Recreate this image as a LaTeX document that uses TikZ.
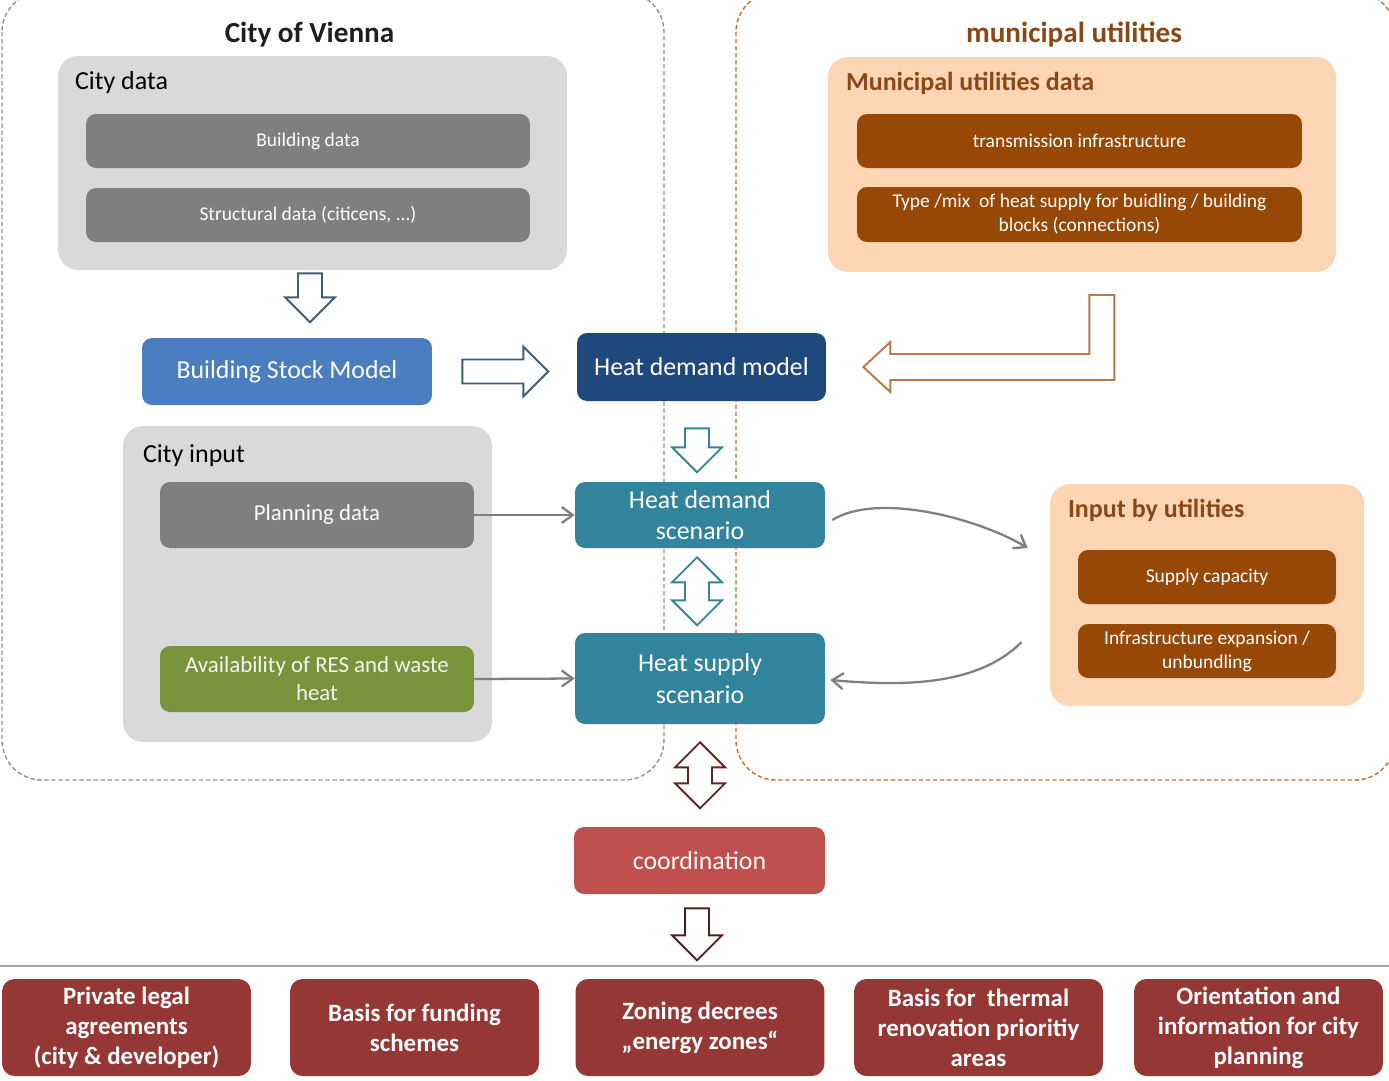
\documentclass[tikz,border=0pt]{standalone}
\usepackage{fontspec}
\setmainfont{Carlito}
\usepackage{tikz}
\usetikzlibrary{arrows.meta,positioning,calc}
\definecolor{ink}{RGB}{30,30,30}
\definecolor{cgrey}{RGB}{217,217,217}
\definecolor{dgrey}{RGB}{127,127,127}
\definecolor{peach}{RGB}{252,213,180}
\definecolor{rust}{RGB}{151,72,6}
\definecolor{rusttxt}{RGB}{138,72,22}
\definecolor{bsmblue}{RGB}{74,126,193}
\definecolor{navy}{RGB}{31,73,125}
\definecolor{sea}{RGB}{49,132,155}
\definecolor{leaf}{RGB}{119,147,60}
\definecolor{coral}{RGB}{192,80,77}
\definecolor{wine}{RGB}{149,55,53}
\definecolor{plum}{RGB}{99,37,35}
\definecolor{slate}{RGB}{68,90,122}
\definecolor{amber}{RGB}{196,110,50}
\definecolor{lamber}{RGB}{185,120,75}
\definecolor{rulegrey}{RGB}{166,166,166}
\tikzset{
  region/.style={dash pattern=on 2.5pt off 1.5pt,line width=0.8pt,rounded corners=0.8cm},
  group/.style={rounded corners=0.4cm,inner sep=0pt},
  item/.style={rounded corners=0.2cm,inner sep=2pt,align=center,text=white,
    font=\fontsize{11.1}{13.6}\selectfont},
  model/.style={rounded corners=0.2cm,align=center,text=white,
    font=\fontsize{14.7}{18}\selectfont},
  outcome/.style={rounded corners=0.25cm,fill=wine,text=white,align=center,
    minimum width=4.98cm,minimum height=1.94cm,font=\bfseries\fontsize{14.2}{17}\selectfont},
  lbl/.style={anchor=west,inner sep=0pt,font=\fontsize{14.8}{17}\selectfont},
  conn/.style={-{Straight Barb[length=2.2mm,width=3.2mm]},dgrey,line width=1.3pt},
  blk/.style={fill=white,line width=1.1pt,line join=miter},
  pics/onearrow/.style={code={
    \draw[pic actions] (0,-12) -- ({#1-25},-12) -- ({#1-25},-25) -- (#1,0)
      -- ({#1-25},25) -- ({#1-25},12) -- (0,12) -- cycle;
  }},
  pics/twoarrow/.style={code={
    \draw[pic actions] (0,0) -- (25,-25) -- (25,-12) -- ({#1-25},-12) -- ({#1-25},-25)
      -- (#1,0) -- ({#1-25},25) -- ({#1-25},12) -- (25,12) -- (25,25) -- cycle;
  }},
}

\begin{document}
\begin{tikzpicture}[x=0.02cm,y=-0.02cm]
\useasboundingbox (0,0) rectangle (1389,1080);
% dashed regions
\draw[region,draw=dgrey!85] (2,-8) rectangle (664,780);
\draw[region,draw=amber] (736,-8) rectangle (1395,780);

% city of vienna
\node[group,fill=cgrey,minimum width=10.18cm,minimum height=4.28cm] (cdata) at (312.5,163) {};
\node[font=\bfseries\fontsize{16.6}{19}\selectfont,text=ink] (cov) at ($(cdata.north)+(-3,-21)$) {City of Vienna};
\node[lbl] (cdlbl) at ($(cdata.north west)+(17,27)$) {City data};
\node[item,fill=dgrey,minimum width=8.88cm,minimum height=1.08cm] (bdata) at (308,141) {Building data};
\node[item,fill=dgrey,minimum width=8.88cm,minimum height=1.08cm] (sdata) at (308,215) {Structural data (citicens, ...)};

\node[group,fill=cgrey,minimum width=7.38cm,minimum height=6.32cm] (cinput) at (307.5,584) {};
\node[lbl] (cilbl) at ($(cinput.north west)+(20,30)$) {City input};
\node[item,fill=dgrey,minimum width=6.28cm,minimum height=1.32cm,font=\fontsize{13}{16}\selectfont] (pdata) at (317,515) {Planning data};
\node[item,fill=leaf,text=leaf!8,minimum width=6.28cm,minimum height=1.32cm,font=\fontsize{13}{16}\selectfont] (res) at (317,679) {Availability of RES and waste\\heat};

% models
\node[model,fill=bsmblue,minimum width=5.8cm,minimum height=1.34cm] (bsm) at (287,371.5) {Building Stock Model};
\node[model,fill=navy,minimum width=4.98cm,minimum height=1.36cm] (hdm) at (701.5,367) {Heat demand model};
\node[model,fill=sea,minimum width=5cm,minimum height=1.32cm] (hds) at (700,515) {Heat demand\\scenario};
\node[model,fill=sea,minimum width=5cm,minimum height=1.82cm] (hss) at (700,678.5) {Heat supply\\scenario};
\node[model,fill=coral,minimum width=5.02cm,minimum height=1.34cm] (coord) at (699.5,860.5) {coordination};

% municipal utilities
\node[group,fill=peach,minimum width=10.16cm,minimum height=4.3cm] (mud) at (1082,164.5) {};
\node[font=\bfseries\fontsize{16.6}{19}\selectfont,text=rusttxt] (mu) at (1074,35) {municipal utilities};
\node[lbl,text=rusttxt,font=\bfseries\fontsize{14.8}{17}\selectfont] (mudlbl) at ($(mud.north west)+(18,27)$) {Municipal utilities data};
\node[item,fill=rust,minimum width=8.9cm,minimum height=1.08cm] (trans) at (1079.5,141) {transmission infrastructure};
\node[item,fill=rust,minimum width=8.9cm,minimum height=1.1cm] (mix) at (1079.5,214.5) {Type /mix~ of heat supply for buidling / building\\blocks (connections)};

\node[group,fill=peach,minimum width=6.28cm,minimum height=4.44cm] (ibu) at (1207,595) {};
\node[lbl,text=rusttxt,font=\bfseries\fontsize{14.8}{17}\selectfont] (ibulbl) at ($(ibu.north west)+(18,27)$) {Input by utilities};
\node[item,fill=rust,minimum width=5.16cm,minimum height=1.08cm] (supcap) at (1207,577) {Supply capacity};
\node[item,fill=rust,minimum width=5.16cm,minimum height=1.08cm] (infra) at (1207,651) {Infrastructure expansion /\\unbundling};

% outcomes
\coordinate (rl) at (0,966); \coordinate (rr) at (1389,966);
\draw[rulegrey,line width=1.6pt] (rl) -- (rr);
\node[outcome] (o1) at (126.5,1027.5) {Private legal\\agreements\\(city \& developer)};
\node[outcome] (o2) at (414.5,1027.5) {Basis for funding\\schemes};
\node[outcome] (o3) at (700,1027.5) {Zoning decrees\\„energy zones“};
\node[outcome] (o4) at (978.5,1027.5) {Basis for~ thermal\\renovation prioritiy\\areas};
\node[outcome] (o5) at (1258.5,1027.5) {Orientation and\\information for city\\planning};

% block arrows
\pic[blk,draw=slate,rotate=-90] at ($(cdata.south)+(-2.5,3)$) {onearrow=49};
\pic[blk,draw=slate] at ($(bsm.east)+(30,0)$) {onearrow=86};
\pic[blk,draw=sea,rotate=-90] at ($(hdm.south)+(-4.5,27)$) {onearrow=44};
\pic[blk,draw=sea,rotate=-90] at ($(hds.south)+(-3,9)$) {twoarrow=68};
\pic[blk,draw=plum,rotate=-90] at ($(hss.south)+(0,18)$) {twoarrow=66};
\pic[blk,draw=plum!80!black,rotate=-90] at ($(coord.south)+(-2.5,14)$) {onearrow=52};
\coordinate (ltip) at ($(hdm.east)+(37,0)$);
\draw[blk,draw=lamber] (ltip) -- ++(27,-25) -- ++(0,12) -- ++(199,0) -- ++(0,-59)
  -- ++(25,0) -- ++(0,85) -- ++(-224,0) -- ++(0,12) -- cycle;

% connectors
\draw[conn] (pdata.east) -- (hds.west);
\draw[conn] (res.east) -- (hss.west);
\draw[conn] ($(hds.east)+(7,5)$) .. controls +(45,-28) and +(-50,-30) .. ($(ibu.west)+(-22,-47)$);
\draw[conn] ($(ibu.west)+(-28,47)$) .. controls +(-45,45) and +(70,6) .. ($(hss.east)+(5,1.5)$);
\end{tikzpicture}
\end{document}
